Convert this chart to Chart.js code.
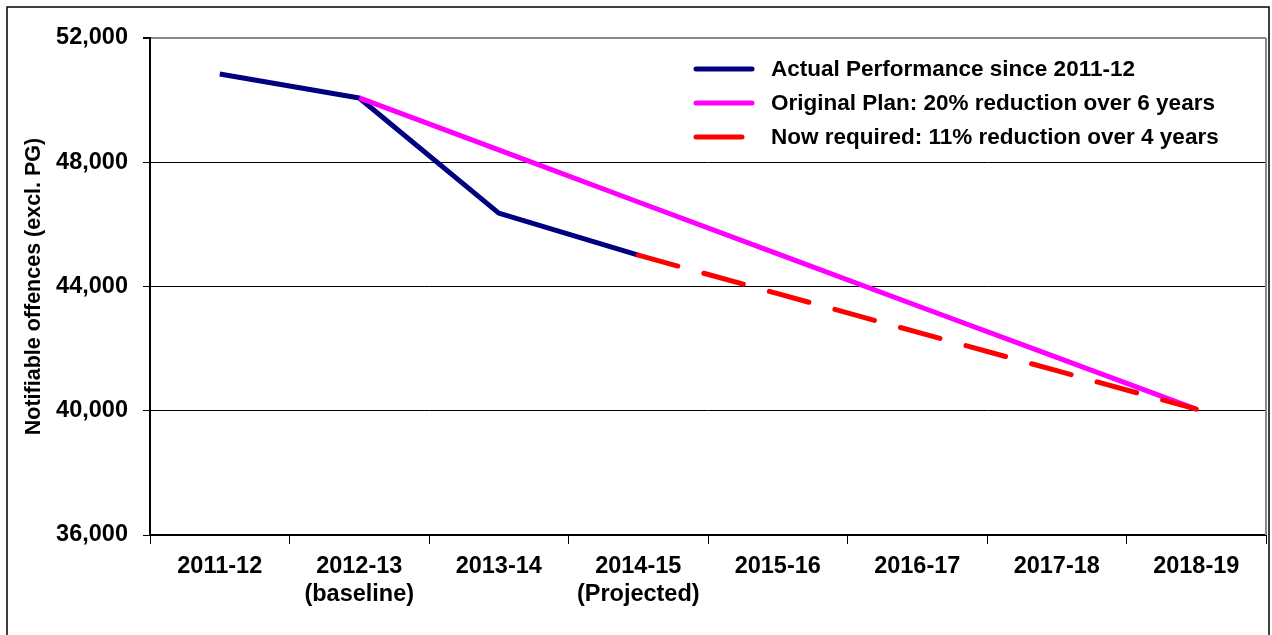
<!DOCTYPE html>
<html>
<head>
<meta charset="utf-8">
<script src="https://cdn.jsdelivr.net/npm/chart.js@4"></script>
<style>
    html, body { margin: 0; padding: 0; background: #fff; }
    #wrap { width: 1272px; height: 635px; position: relative; }
</style>
</head>
<body>
<div id="wrap"><canvas id="offences-chart" width="1272" height="635"></canvas></div>
<script>
// Données du graphique
const years = [
    '2011-12', ['2012-13', '(baseline)'], '2013-14', ['2014-15', '(Projected)'],
    '2015-16', '2016-17', '2017-18', '2018-19'
];
const actualValues   = [50840, 50070, 46360, 45010, null, null, null, null];
const planValues     = [null, 50070, 48400, 46720, 45050, 43380, 41720, 40050];
const requiredValues = [null, null, null, 45010, 43770, 42530, 41290, 40050];
const yTicks = [36000, 40000, 44000, 48000, 52000];

const seriesNames = [
    'Actual Performance since 2011-12',
    'Original Plan: 20% reduction over 6 years',
    'Now required: 11% reduction over 4 years'
];

const FONT = 'Arial, "Liberation Sans", sans-serif';

// Cadre extérieur, bordure droite de la zone de tracé et légende
const framePlugin = {
    id: 'frameAndLegend',
    afterDraw(chart) {
        const ctx = chart.ctx;
        const area = chart.chartArea;
        ctx.save();
        // cadre
        ctx.strokeStyle = '#000';
        ctx.lineWidth = 1.5;
        ctx.strokeRect(7, 7, 1262, 700);
        // bordure droite grise
        ctx.strokeStyle = '#888';
        ctx.lineWidth = 2;
        ctx.beginPath();
        ctx.moveTo(area.right, area.top);
        ctx.lineTo(area.right, area.bottom);
        ctx.stroke();

        // légende
        ctx.font = 'bold 22.5px ' + FONT;
        ctx.textBaseline = 'middle';
        ctx.textAlign = 'left';
        chart.data.datasets.forEach((ds, i) => {
            const y = 69 + i * 34;
            ctx.strokeStyle = ds.borderColor;
            ctx.lineWidth = 5;
            ctx.lineCap = 'round';
            ctx.setLineDash([]);
            ctx.beginPath();
            ctx.moveTo(696, y);
            ctx.lineTo(i === 2 ? 742 : 752, y);
            ctx.stroke();
            ctx.fillStyle = '#000';
            ctx.fillText(ds.label, 771, y + 1);
        });
        ctx.restore();
    }
};

const ctx = document.getElementById('offences-chart');
const chart = new Chart(ctx, {
    type: 'line',
    data: {
        labels: years,
        datasets: [{
            label: seriesNames[0],
            data: actualValues,
            borderColor: '#000080',
            borderWidth: 5,
            order: 3
        }, {
            label: seriesNames[1],
            data: planValues,
            borderColor: '#FF00FF',
            borderWidth: 5,
            order: 2
        }, {
            label: seriesNames[2],
            data: requiredValues,
            borderColor: '#FF0000',
            borderWidth: 5,
            borderDash: [41, 27],
            borderCapStyle: 'round',
            order: 1
        }]
    },
    options: {
        responsive: false,
        animation: false,
        devicePixelRatio: 1,
        layout: { padding: { left: 0, top: 38, right: 6, bottom: 0 } },
        elements: {
            point: { radius: 0, hoverRadius: 0 },
            line: { tension: 0, borderJoinStyle: 'round' }
        },
        plugins: {
            legend: { display: false },
            tooltip: { enabled: false }
        },
        scales: {
            x: {
                offset: true,
                grid: {
                    offset: true,
                    drawOnChartArea: false,
                    drawTicks: true,
                    tickLength: 9,
                    color: '#000'
                },
                border: { color: '#000', width: 2 },
                ticks: {
                    color: '#000',
                    font: { family: FONT, size: 23.5, weight: 'bold', lineHeight: 1.2 },
                    padding: 8,
                    maxRotation: 0,
                    autoSkip: false
                },
                afterFit(scale) { scale.height = 100; }
            },
            y: {
                min: 36000,
                max: 52000,
                afterBuildTicks(scale) {
                    scale.ticks = yTicks.map(v => ({ value: v }));
                },
                grid: {
                    color: c => (c.tick && c.tick.value === 52000) ? '#888' : '#000',
                    lineWidth: c => (c.tick && c.tick.value === 52000) ? 2 : 1,
                    tickLength: 7,
                    tickColor: '#000'
                },
                border: { color: '#000', width: 2 },
                ticks: {
                    color: '#000',
                    font: { family: FONT, size: 23.5, weight: 'bold' },
                    padding: 15,
                    callback: v => v.toLocaleString('en-GB')
                },
                title: {
                    display: true,
                    text: 'Notifiable offences (excl. PG)',
                    color: '#000',
                    font: { family: FONT, size: 21.5, weight: 'bold' },
                    padding: { top: 21, bottom: 0 }
                },
                afterFit(scale) { scale.width = 150; }
            }
        }
    },
    plugins: [framePlugin]
});
</script>
</body>
</html>
